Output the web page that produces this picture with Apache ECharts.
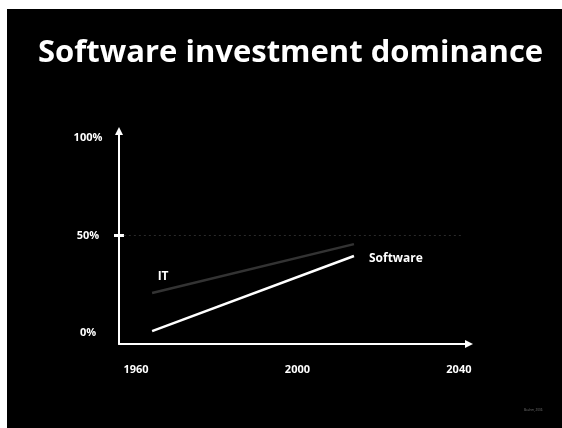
<!DOCTYPE html>
<html>
<head>
<meta charset="utf-8">
<script src="https://cdn.jsdelivr.net/npm/echarts@6/dist/echarts.min.js"></script>
<style>
html,body{margin:0;padding:0;background:#fff;}
#c{width:562px;height:428px;}
</style>
</head>
<body>
<div id="c"></div>
<script>
var titleText = 'Software investment dominance';
var years = [1964, 2014];
var itValues = [20.5, 45.6];
var softwareValues = [1.0, 39.5];
var xTickLabels = [1960, 2000, 2040];
var yTickLabels = [0, 50, 100];
var referenceLevel = 50;

var FONT = '"Open Sans", "Liberation Sans", sans-serif';
var xMin = 1955.8, xMax = 2042.5, yMin = -5.64, yMax = 103.6;

var itData = years.map(function (y, i) {
  var d = { value: [y, itValues[i]] };
  if (i === 0) {
    d.label = { show: true, formatter: 'IT', position: 'top', offset: [11, -5],
      color: '#fff', fontFamily: FONT, fontWeight: 'bold', fontSize: 12 };
  }
  return d;
});
var swData = years.map(function (y, i) { return [y, softwareValues[i]]; });

var chart = echarts.init(document.getElementById('c'));
chart.setOption({
  backgroundColor: '#000',
  animation: false,
  title: {
    text: titleText, left: 33, top: 33,
    textStyle: { color: '#fff', fontFamily: FONT, fontWeight: 'bold', fontSize: 31 }
  },
  graphic: [
    { type: 'rect', shape: { x: 0, y: 0, width: 562, height: 9 }, style: { fill: '#fff' }, z: 100 },
    { type: 'rect', shape: { x: 0, y: 0, width: 7, height: 428 }, style: { fill: '#fff' }, z: 100 },
    { type: 'text', left: 524, top: 409, style: { text: 'Boehm, 2006', fill: '#777', fontSize: 3, fontFamily: FONT } }
  ],
  grid: { left: 119, right: 93, top: 131, bottom: 84 },
  xAxis: {
    type: 'value', min: xMin, max: xMax,
    axisLine: { onZero: false, lineStyle: { color: '#fff', width: 2 }, symbol: ['none', 'triangle'], symbolSize: [8, 8] },
    axisTick: { show: false },
    splitLine: { show: false },
    axisLabel: { customValues: xTickLabels, formatter: function (v) { return String(v); },
      color: '#fff', fontFamily: FONT, fontWeight: 'bold', fontSize: 11, margin: 20 }
  },
  yAxis: [{
    type: 'value', min: yMin, max: yMax,
    axisLine: { show: true, onZero: false, lineStyle: { color: '#fff', width: 2 }, symbol: ['none', 'triangle'], symbolSize: [8, 8] },
    axisTick: { show: true, customValues: [referenceLevel], inside: true, length: 5, lineStyle: { color: '#fff', width: 3 } },
    splitLine: { show: false },
    axisLabel: { customValues: yTickLabels, formatter: '{value}%', align: 'center', margin: 31,
      color: '#fff', fontFamily: FONT, fontWeight: 'bold', fontSize: 11 }
  }, {
    type: 'value', min: yMin, max: yMax, position: 'left',
    axisLine: { show: false, onZero: false },
    axisTick: { show: true, customValues: [referenceLevel], inside: false, length: 5, lineStyle: { color: '#fff', width: 3 } },
    splitLine: { show: false },
    axisLabel: { show: false }
  }],
  series: [{
    name: 'IT', type: 'line', data: itData, symbol: 'circle', symbolSize: 1, showSymbol: true,
    itemStyle: { color: 'rgba(0,0,0,0)', borderWidth: 0 },
    lineStyle: { color: '#333', width: 2.5 },
    markLine: {
      silent: true, symbol: 'none', label: { show: false },
      lineStyle: { color: '#2a2a2a', type: [2, 3], width: 1 },
      data: [[{ coord: [1957, referenceLevel] }, { coord: [2040.7, referenceLevel] }]]
    }
  }, {
    name: 'Software', type: 'line', data: swData, symbol: 'none',
    lineStyle: { color: '#fff', width: 2.5 },
    endLabel: { show: true, formatter: 'Software', distance: 15, offset: [0, 3],
      color: '#fff', fontFamily: FONT, fontWeight: 'bold', fontSize: 12 }
  }]
});
</script>
</body>
</html>
